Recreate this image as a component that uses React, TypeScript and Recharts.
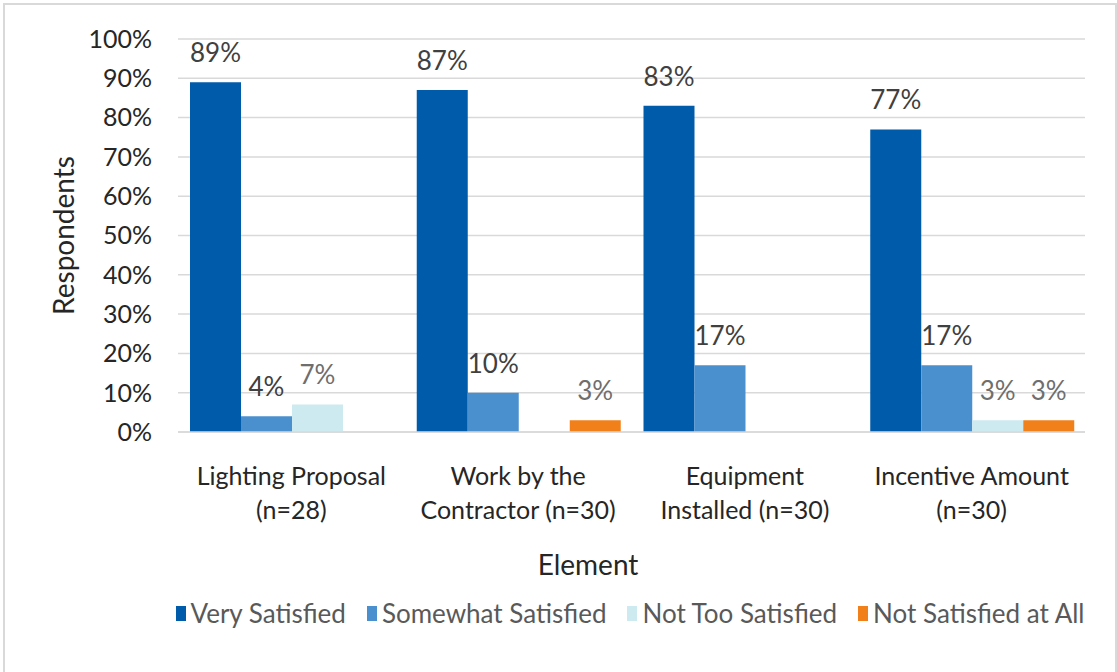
import React from 'react';
import {
  BarChart, Bar, XAxis, YAxis, CartesianGrid, Legend, LabelList, Label,
} from 'recharts';

const categories = ['Lighting Proposal (n=28)', 'Work by the Contractor (n=30)', 'Equipment Installed (n=30)', 'Incentive Amount (n=30)'];
const categoryLines: string[][] = [
  ['Lighting Proposal', '(n=28)'],
  ['Work by the', 'Contractor (n=30)'],
  ['Equipment', 'Installed (n=30)'],
  ['Incentive Amount', '(n=30)'],
];
const verySatisfied = [89, 87, 83, 77];
const somewhatSatisfied = [4, 10, 17, 17];
const notTooSatisfied = [7, 0, 0, 3];
const notSatisfiedAtAll = [0, 3, 0, 3];
const yTicks = [0, 10, 20, 30, 40, 50, 60, 70, 80, 90, 100];
const boundaryTicks = [0, 1, 2, 3, 4];

const seriesNames = ['Very Satisfied', 'Somewhat Satisfied', 'Not Too Satisfied', 'Not Satisfied at All'];
const seriesKeys = ['very', 'somewhat', 'notToo', 'notAtAll'];
const seriesColors = ['#005BAA', '#4A90CF', '#CDEAF1', '#F2801A'];
const labelColors = ['#404040', '#404040', '#6E6E6E', '#6E6E6E'];

const data = categories.map((c, i) => ({
  name: c,
  very: verySatisfied[i],
  somewhat: somewhatSatisfied[i],
  notToo: notTooSatisfied[i],
  notAtAll: notSatisfiedAtAll[i],
}));

const FONT = 'Lato, "Open Sans", sans-serif';

const CategoryTick = (props: any) => {
  const { x, y, payload } = props;
  const lines = categoryLines[payload.index] || [String(payload.value)];
  return (
    <g>
      {lines.map((l, i) => (
        <text key={i} x={x} y={y + 45 + i * 34} textAnchor="middle" fill="#262626" fontSize={25} fontFamily={FONT}>
          {l}
        </text>
      ))}
    </g>
  );
};

const renderLegend = () => (
  <div style={{ display: 'flex', justifyContent: 'center', alignItems: 'center', fontFamily: FONT, fontSize: 26, color: '#595959', lineHeight: '30px', whiteSpace: 'nowrap' }}>
    {seriesNames.map((n, i) => (
      <div key={n} style={{ display: 'flex', alignItems: 'center', flex: 'none', marginRight: i < seriesNames.length - 1 ? 21 : 0 }}>
        <div style={{ width: 10, height: 15, background: seriesColors[i], marginRight: 5 }} />
        <span>{n}</span>
      </div>
    ))}
  </div>
);

export default function App() {
  return (
    <div style={{ position: 'absolute', left: 0, top: 0, width: 1117, height: 672, overflow: 'hidden', background: '#fff' }}>
      <div style={{ position: 'absolute', left: 3, top: 3, width: 1110, height: 700, border: '2px solid #D9D9D9' }} />
      <div style={{ position: 'absolute', left: 0, top: 0 }}>
        <BarChart
          width={1117}
          height={672}
          data={data}
          margin={{ top: 39, right: 32, left: 0, bottom: 44 }}
          barCategoryGap={12}
          barGap={0}
          style={{ fontFamily: FONT }}
        >
          <CartesianGrid vertical={false} stroke="#D9D9D9" strokeWidth={1.5} />
          <XAxis
            xAxisId="b"
            type="number"
            domain={[0, 4]}
            ticks={boundaryTicks}
            height={0}
            axisLine={false}
            tickLine={{ stroke: '#D9D9D9', strokeWidth: 1.5 }}
            tickSize={8}
            tick={() => <g />}
            allowDataOverflow
          />
          <XAxis
            xAxisId="cat"
            dataKey="name"
            height={166}
            interval={0}
            tickLine={false}
            axisLine={{ stroke: '#D9D9D9', strokeWidth: 1.5 }}
            tick={<CategoryTick />}
          >
            <Label
              content={(p: any) => {
                const vb = p.viewBox;
                return (
                  <text x={588} y={vb.y + 143} textAnchor="middle" fill="#262626" fontSize={28} fontFamily={FONT}>
                    Element
                  </text>
                );
              }}
            />
          </XAxis>
          <YAxis
            width={178}
            domain={[0, 100]}
            ticks={yTicks}
            interval={0}
            tickFormatter={(v: number) => `${v}%`}
            axisLine={false}
            tickLine={false}
            tickSize={0}
            tickMargin={26}
            tick={{ fill: '#262626', fontSize: 25, fontFamily: FONT }}
          >
            <Label
              content={(p: any) => {
                const vb = p.viewBox;
                const cy = vb.y + vb.height / 2;
                return (
                  <text x={63} y={cy} transform={`rotate(-90, 63, ${cy})`} textAnchor="middle" dominantBaseline="central" fill="#262626" fontSize={28} fontFamily={FONT}>
                    Respondents
                  </text>
                );
              }}
            />
          </YAxis>
          <Legend verticalAlign="bottom" height={30} content={renderLegend} wrapperStyle={{ left: 130, width: 1000 }} />
          {seriesKeys.map((k, i) => (
            <Bar key={k} xAxisId="cat" dataKey={k} name={seriesNames[i]} fill={seriesColors[i]} isAnimationActive={false}>
              <LabelList
                dataKey={k}
                position="top"
                offset={20}
                formatter={(v: any) => (v ? `${v}%` : '')}
                fill={labelColors[i]}
                fontSize={26}
                fontFamily={FONT}
              />
            </Bar>
          ))}
        </BarChart>
      </div>
    </div>
  );
}
